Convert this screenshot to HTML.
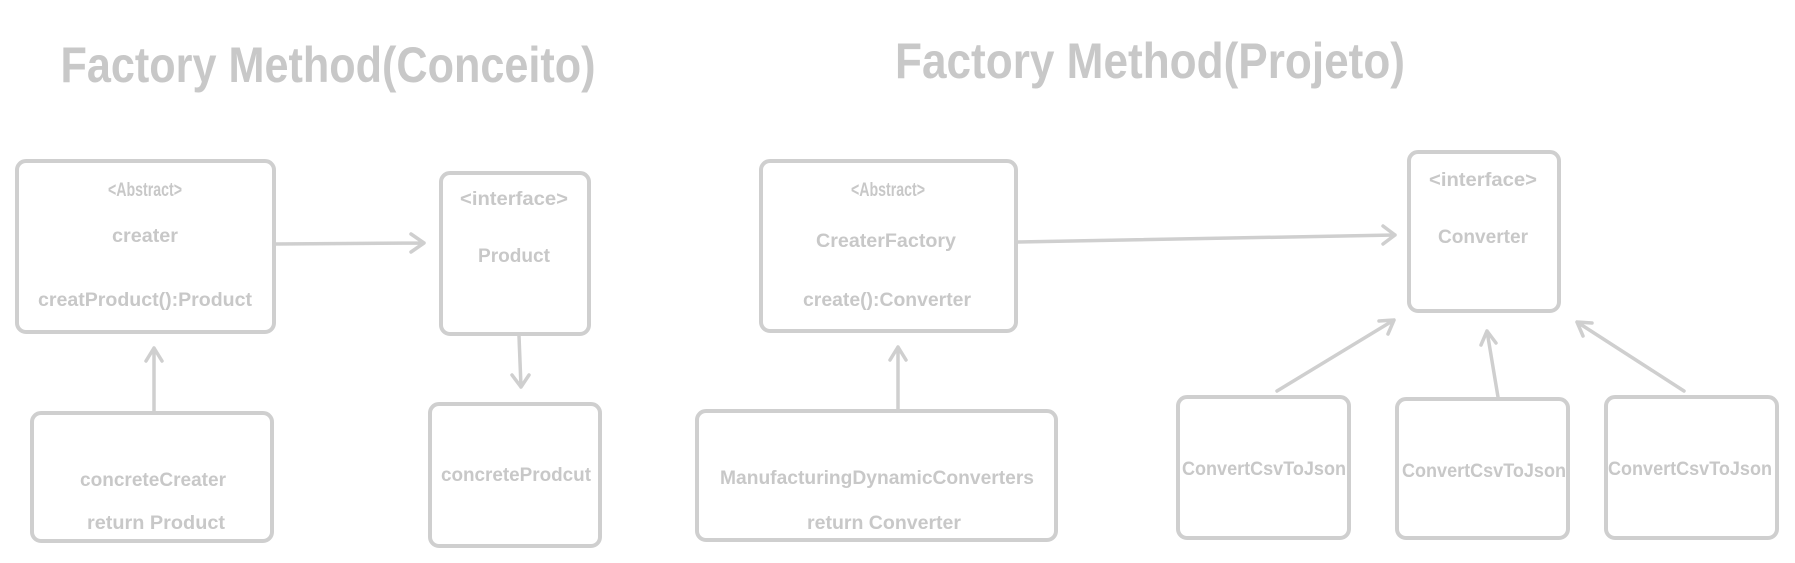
<!DOCTYPE html>
<html><head><meta charset="utf-8"><style>
html,body{margin:0;padding:0;background:#fff;}
svg{display:block;}
text{font-family:"Liberation Sans Narrow","Liberation Sans",sans-serif;font-weight:bold;fill:#c8c8c8;text-anchor:middle;}
.b{fill:none;stroke:#cfcfcf;stroke-width:4;}
.l{fill:none;stroke:#cfcfcf;stroke-width:3.5;stroke-linecap:round;stroke-linejoin:round;}
</style></head><body>
<svg width="1795" height="563" viewBox="0 0 1795 563" xmlns="http://www.w3.org/2000/svg">
<text x="328" y="82" font-size="50" textLength="535" lengthAdjust="spacingAndGlyphs">Factory Method(Conceito)</text>
<text x="1150" y="78" font-size="50" textLength="510" lengthAdjust="spacingAndGlyphs">Factory Method(Projeto)</text>

<rect class="b" x="17" y="161" width="257" height="171" rx="9"/>
<rect class="b" x="441" y="173" width="148" height="161" rx="9"/>
<rect class="b" x="32" y="413" width="240" height="128" rx="9"/>
<rect class="b" x="430" y="404" width="170" height="142" rx="9"/>
<rect class="b" x="761" y="161" width="255" height="170" rx="9"/>
<rect class="b" x="1409" y="152" width="150" height="159" rx="9"/>
<rect class="b" x="697" y="411" width="359" height="129" rx="9"/>
<rect class="b" x="1178" y="397" width="171" height="141" rx="9"/>
<rect class="b" x="1397" y="399" width="171" height="139" rx="9"/>
<rect class="b" x="1606" y="397" width="171" height="141" rx="9"/>

<g font-size="19">
<text x="145" y="196" textLength="74" lengthAdjust="spacingAndGlyphs">&lt;Abstract&gt;</text>
<text x="145" y="242" textLength="66" lengthAdjust="spacingAndGlyphs">creater</text>
<text x="145" y="306" textLength="214" lengthAdjust="spacingAndGlyphs">creatProduct():Product</text>
<text x="514" y="205" textLength="108" lengthAdjust="spacingAndGlyphs">&lt;interface&gt;</text>
<text x="514" y="262" textLength="72" lengthAdjust="spacingAndGlyphs">Product</text>
<text x="153" y="486" textLength="146" lengthAdjust="spacingAndGlyphs">concreteCreater</text>
<text x="156" y="529" textLength="138" lengthAdjust="spacingAndGlyphs">return Product</text>
<text x="516" y="481" textLength="150" lengthAdjust="spacingAndGlyphs">concreteProdcut</text>
<text x="888" y="196" textLength="74" lengthAdjust="spacingAndGlyphs">&lt;Abstract&gt;</text>
<text x="886" y="247" textLength="140" lengthAdjust="spacingAndGlyphs">CreaterFactory</text>
<text x="887" y="306" textLength="168" lengthAdjust="spacingAndGlyphs">create():Converter</text>
<text x="1483" y="186" textLength="108" lengthAdjust="spacingAndGlyphs">&lt;interface&gt;</text>
<text x="1483" y="243" textLength="90" lengthAdjust="spacingAndGlyphs">Converter</text>
<text x="877" y="484" textLength="314" lengthAdjust="spacingAndGlyphs">ManufacturingDynamicConverters</text>
<text x="884" y="529" textLength="154" lengthAdjust="spacingAndGlyphs">return Converter</text>
<text x="1264" y="475" textLength="164" lengthAdjust="spacingAndGlyphs">ConvertCsvToJson</text>
<text x="1484" y="477" textLength="164" lengthAdjust="spacingAndGlyphs">ConvertCsvToJson</text>
<text x="1690" y="475" textLength="164" lengthAdjust="spacingAndGlyphs">ConvertCsvToJson</text>
</g>

<path class="l" d="M276 244 L424 243 M411 234 L424 243 L411 252"/>
<path class="l" d="M519 336 L521 387 M512 375 L521 387 L529 375"/>
<path class="l" d="M154 412 L154 348 M146 361 L154 348 L162 361"/>
<path class="l" d="M1018 242 L1395 235 M1383 226 L1395 235 L1383 244"/>
<path class="l" d="M898 410 L898 347 M890 360 L898 347 L906 360"/>
<path class="l" d="M1277 391 L1394 320 M1379 321 L1394 320 L1388 334"/>
<path class="l" d="M1498 397 L1487 331 M1481 345 L1487 331 L1496 343"/>
<path class="l" d="M1684 391 L1577 322 M1583 336 L1577 322 L1592 323"/>
</svg>
</body></html>
